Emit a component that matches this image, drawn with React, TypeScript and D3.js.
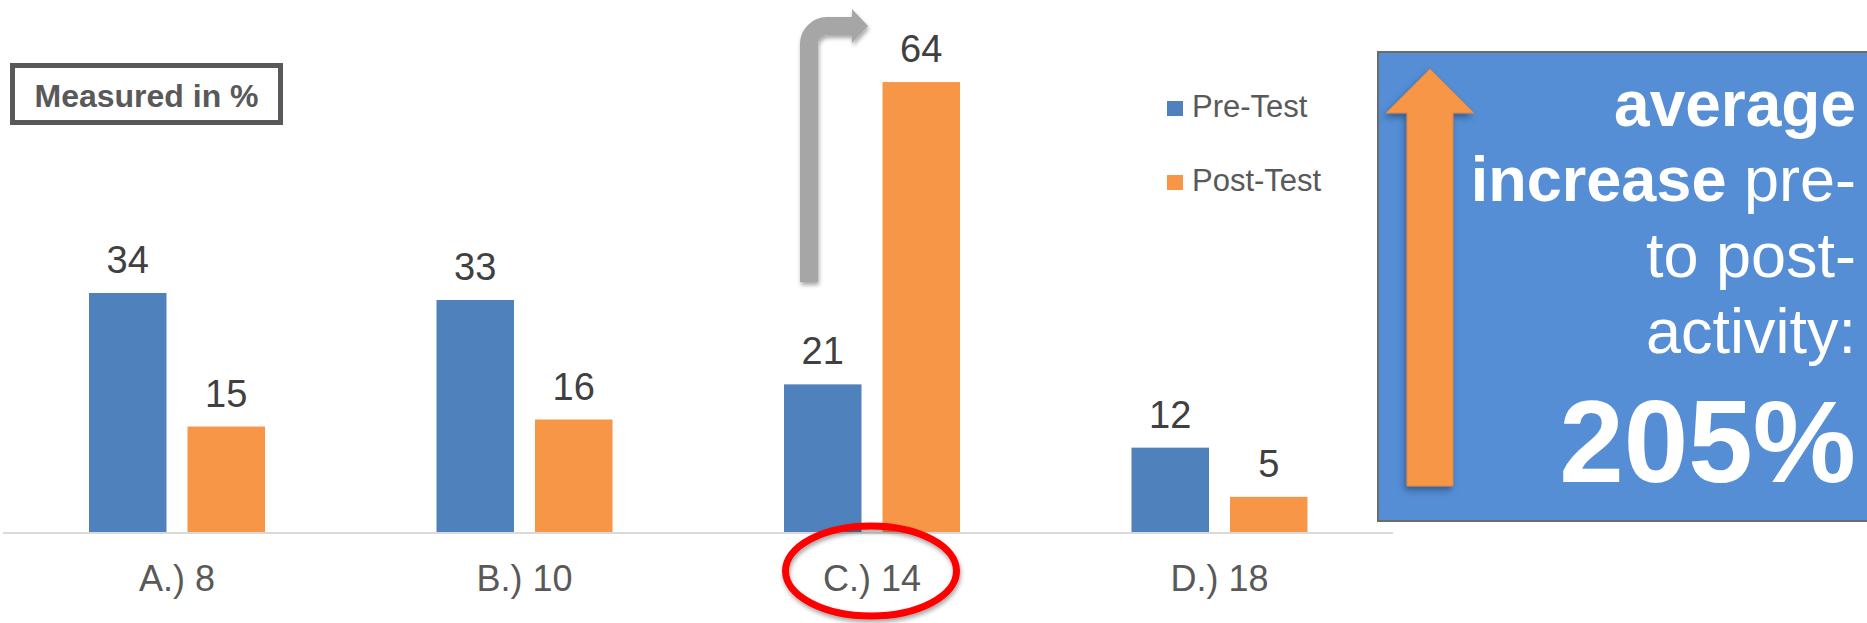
import React from "react";
import * as d3 from "d3";

// Share of correct answers per answer option, before and after the activity (%)
const categories = ["A.) 8", "B.) 10", "C.) 14", "D.) 18"];
const seriesNames = ["Pre-Test", "Post-Test"];
const preTest = [34, 33, 21, 12];
const postTest = [15, 16, 64, 5];
const seriesColors = ["#4F81BD", "#F79646"];

const calloutLines = ["average", "increase", "pre-", "to post-", "activity:", "205%"];

const W = 1867;
const H = 623;
const FONT = "'Liberation Sans', Arial, Helvetica, sans-serif";

export default function App() {
  const baseY = 532;
  const x0 = d3.scaleBand<string>().domain(categories).range([3.25, 1393.25]).padding(0);
  const groupW = 176;
  const x1 = d3
    .scaleBand<string>()
    .domain(seriesNames)
    .range([0, groupW])
    .paddingInner(0.2134)
    .paddingOuter(0);
  const y = d3.scaleLinear().domain([0, 70]).range([baseY, baseY - 70 * 7.03]);

  const values = [preTest, postTest];

  const bars: React.ReactNode[] = [];
  const labels: React.ReactNode[] = [];
  categories.forEach((cat, ci) => {
    const gx = (x0(cat) as number) + (x0.bandwidth() - groupW) / 2;
    seriesNames.forEach((s, si) => {
      const v = values[si][ci];
      const bx = gx + (x1(s) as number);
      bars.push(
        <rect
          key={`b-${ci}-${si}`}
          x={bx}
          y={y(v)}
          width={x1.bandwidth()}
          height={baseY - y(v)}
          fill={seriesColors[si]}
        />
      );
      labels.push(
        <text
          key={`l-${ci}-${si}`}
          x={bx + x1.bandwidth() / 2}
          y={y(v) - 20}
          textAnchor="middle"
          fontSize={38}
          fill="#404040"
        >
          {v}
        </text>
      );
    });
  });

  // Bent gray arrow above the C.) 14 group
  const stemX = 809;
  const turnY = 26;
  const r = 18;
  const bentPath = `M${stemX},282 L${stemX},${turnY + r} A${r},${r} 0 0 1 ${stemX + r},${turnY} L852,${turnY}`;

  // Orange up arrow inside the callout
  const upArrow = "M1430,69 L1474,113 L1453,113 L1453,486 L1407,486 L1407,113 L1386,113 Z";

  const cx = x0("C.) 14")! + x0.bandwidth() / 2;

  return (
    <div style={{ position: "absolute", left: 0, top: 0 }}>
      <svg width={W} height={H} style={{ display: "block", fontFamily: FONT }}>
        <defs>
          <filter id="softShadow" x="-20%" y="-20%" width="140%" height="140%">
            <feDropShadow dx="1" dy="3" stdDeviation="2" floodColor="#000" floodOpacity="0.35" />
          </filter>
          <filter id="arrowShadow" x="-30%" y="-10%" width="160%" height="120%">
            <feDropShadow dx="-2" dy="4" stdDeviation="3" floodColor="#1f3f6a" floodOpacity="0.6" />
          </filter>
        </defs>
        <rect x={0} y={0} width={W} height={H} fill="#fff" />

        {/* "Measured in %" note */}
        <rect x={12.5} y={65.5} width={268} height={57} fill="#fff" stroke="#595959" strokeWidth={5} />
        <text x={146.5} y={107} textAnchor="middle" fontSize={32} fontWeight="bold" fill="#595959">
          Measured in %
        </text>

        {/* category axis */}
        <line x1={3} x2={1393} y1={baseY + 1} y2={baseY + 1} stroke="#D9D9D9" strokeWidth={2} />

        {bars}
        {labels}

        {categories.map((c) => (
          <text
            key={c}
            x={(x0(c) as number) + x0.bandwidth() / 2}
            y={591}
            textAnchor="middle"
            fontSize={36}
            fill="#595959"
          >
            {c}
          </text>
        ))}

        {/* legend */}
        {seriesNames.map((s, i) => (
          <g key={s} transform={`translate(1167, ${101 + i * 74})`}>
            <rect x={0} y={0} width={16} height={15} fill={seriesColors[i]} />
            <text x={25} y={16} fontSize={31} fill="#595959">
              {s}
            </text>
          </g>
        ))}

        {/* bent arrow */}
        <g filter="url(#softShadow)">
          <path d={bentPath} fill="none" stroke="#A6A6A6" strokeWidth={18} />
          <path d={`M852,9 L868,${turnY} L852,43 Z`} fill="#A6A6A6" />
        </g>

        {/* highlight ring around C.) 14 */}
        <ellipse
          cx={cx - 1}
          cy={571}
          rx={85.5}
          ry={45}
          fill="none"
          stroke="#FF0000"
          strokeWidth={7}
          filter="url(#softShadow)"
        />

        {/* callout panel */}
        <rect x={1378} y={52} width={W - 1378 + 5} height={469} fill="#558ED5" stroke="#6B6B6B" strokeWidth={2} />
        <path d={upArrow} fill="#F79646" stroke="#E0843A" strokeWidth={1} filter="url(#arrowShadow)" />
        <g fill="#fff" textAnchor="end">
          <text x={1856} y={126} fontSize={64} fontWeight="bold">
            {calloutLines[0]}
          </text>
          <text x={1856} y={201} fontSize={63}>
            <tspan fontWeight="bold">{calloutLines[1]}</tspan>
            <tspan> {calloutLines[2]}</tspan>
          </text>
          <text x={1856} y={277} fontSize={63}>
            {calloutLines[3]}
          </text>
          <text x={1856} y={353} fontSize={63}>
            {calloutLines[4]}
          </text>
          <text x={1856} y={482} fontSize={116} fontWeight="bold">
            {calloutLines[5]}
          </text>
        </g>
      </svg>
    </div>
  );
}
